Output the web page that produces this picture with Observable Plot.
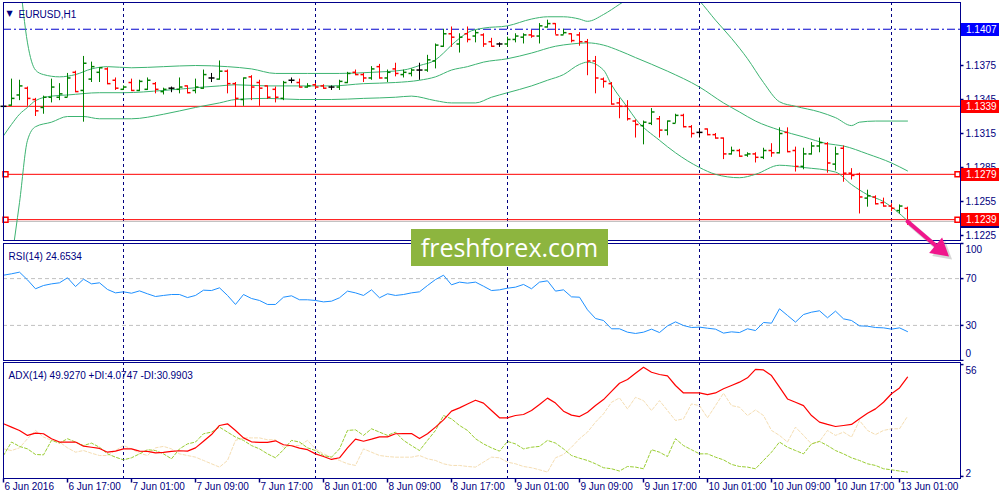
<!DOCTYPE html>
<html>
<head>
<meta charset="utf-8">
<title>EURUSD,H1</title>
<script src="https://cdn.jsdelivr.net/npm/d3@7"></script>
<script src="https://cdn.jsdelivr.net/npm/@observablehq/plot@0.6"></script>
<style>
  html, body { margin: 0; padding: 0; background: #fff; }
  #chart { position: relative; width: 1000px; height: 500px; overflow: hidden; background: #fff; }
  #chart svg { position: absolute; left: 0; }
  #logo {
    position: absolute; left: 411px; top: 229px; width: 197px; height: 37px;
    background: #8db53f; color: #fff; font: 25px "Open Sans", sans-serif;
    line-height: 37px; text-align: center; z-index: 3;
  }
</style>
</head>
<body>
<div id="chart"><div id="logo">freshforex.com</div></div>
<script>
// EURUSD H1, bar 0 = 6 Jun 2016 09:00 ... bar 113 = 13 Jun 2016 02:00
const barOpen = [
  1.1339,1.1340,1.1349,1.1355,1.1345,1.1338,1.1347,1.1347,1.1347,1.1369,
  1.1353,1.1363,1.1369,1.1372,1.1362,1.1354,1.1360,1.1353,1.1354,1.1359,
  1.1352,1.1355,1.1354,1.1357,1.1353,1.1355,1.1364,1.1363,1.1370,1.1359,
  1.1345,1.1365,1.1360,1.1357,1.1354,1.1346,1.1362,1.1360,1.1356,1.1358,
  1.1357,1.1356,1.1356,1.1360,1.1369,1.1367,1.1364,1.1374,1.1364,1.1372,
  1.1367,1.1368,1.1371,1.1371,1.1379,1.1392,1.1403,1.1394,1.1403,1.1401,
  1.1402,1.1396,1.1394,1.1394,1.1398,1.1400,1.1402,1.1401,1.1409,1.1412,
  1.1402,1.1403,1.1402,1.1396,1.1379,1.1363,1.1359,1.1342,1.1339,1.1326,
  1.1322,1.1324,1.1328,1.1318,1.1324,1.1331,1.1321,1.1316,1.1319,1.1314,
  1.1311,1.1297,1.1300,1.1296,1.1297,1.1294,1.1300,1.1298,1.1316,1.1300,
  1.1286,1.1297,1.1304,1.1306,1.1288,1.1302,1.1280,1.1279,1.1258,1.1259,
  1.1254,1.1251,1.1247,1.1249
];
const barHigh = [
  1.1344,1.1363,1.1362,1.1356,1.1346,1.1348,1.1363,1.1359,1.1368,1.1370,
  1.1383,1.1378,1.1373,1.1373,1.1364,1.1357,1.1363,1.1362,1.1364,1.1360,
  1.1355,1.1356,1.1364,1.1357,1.1363,1.1371,1.1368,1.1379,1.1371,1.1360,
  1.1364,1.1366,1.1362,1.1357,1.1356,1.1361,1.1364,1.1363,1.1359,1.1359,
  1.1358,1.1357,1.1362,1.1369,1.1371,1.1368,1.1374,1.1376,1.1371,1.1377,
  1.1371,1.1372,1.1377,1.1384,1.1394,1.1407,1.1409,1.1403,1.1409,1.1406,
  1.1403,1.1399,1.1395,1.1400,1.1403,1.1403,1.1406,1.1412,1.1415,1.1412,
  1.1407,1.1403,1.1404,1.1398,1.1383,1.1364,1.1360,1.1346,1.1344,1.1327,
  1.1326,1.1337,1.1330,1.1326,1.1332,1.1332,1.1322,1.1319,1.1319,1.1315,
  1.1311,1.1303,1.1301,1.1298,1.1298,1.1302,1.1306,1.1320,1.1320,1.1303,
  1.1302,1.1307,1.1311,1.1307,1.1303,1.1304,1.1284,1.1280,1.1265,1.1260,
  1.1258,1.1253,1.1252,1.1250
];
const barLow = [
  1.1337,1.1339,1.1344,1.1339,1.1330,1.1332,1.1342,1.1344,1.1347,1.1351,
  1.1325,1.1360,1.1360,1.1358,1.1353,1.1353,1.1352,1.1352,1.1353,1.1350,
  1.1349,1.1351,1.1350,1.1350,1.1350,1.1354,1.1360,1.1362,1.1350,1.1338,
  1.1339,1.1344,1.1339,1.1345,1.1342,1.1344,1.1359,1.1355,1.1355,1.1354,
  1.1354,1.1353,1.1353,1.1359,1.1366,1.1360,1.1362,1.1363,1.1360,1.1365,
  1.1364,1.1365,1.1362,1.1369,1.1372,1.1391,1.1391,1.1386,1.1395,1.1395,
  1.1391,1.1391,1.1391,1.1391,1.1395,1.1394,1.1399,1.1394,1.1408,1.1402,
  1.1402,1.1395,1.1392,1.1366,1.1350,1.1355,1.1340,1.1328,1.1326,1.1311,
  1.1305,1.1322,1.1311,1.1313,1.1324,1.1320,1.1311,1.1311,1.1313,1.1310,
  1.1292,1.1296,1.1294,1.1294,1.1289,1.1292,1.1294,1.1297,1.1298,1.1281,
  1.1283,1.1296,1.1298,1.1280,1.1282,1.1272,1.1274,1.1244,1.1250,1.1252,
  1.1250,1.1246,1.1244,1.1234
];
const barClose = [
  1.1339,1.1346,1.1357,1.1346,1.1335,1.1347,1.1356,1.1350,1.1364,1.1352,
  1.1377,1.1374,1.1373,1.1359,1.1355,1.1356,1.1353,1.1361,1.1362,1.1354,
  1.1354,1.1355,1.1356,1.1351,1.1356,1.1367,1.1364,1.1370,1.1359,1.1346,
  1.1364,1.1356,1.1355,1.1347,1.1347,1.1360,1.1362,1.1356,1.1357,1.1356,
  1.1355,1.1356,1.1361,1.1368,1.1367,1.1364,1.1372,1.1364,1.1369,1.1368,
  1.1369,1.1371,1.1371,1.1380,1.1393,1.1403,1.1400,1.1400,1.1398,1.1404,
  1.1394,1.1392,1.1394,1.1398,1.1401,1.1402,1.1401,1.1410,1.1412,1.1402,
  1.1404,1.1397,1.1396,1.1379,1.1364,1.1361,1.1341,1.1339,1.1328,1.1323,
  1.1325,1.1334,1.1318,1.1326,1.1331,1.1321,1.1315,1.1316,1.1314,1.1311,
  1.1297,1.1300,1.1295,1.1297,1.1294,1.1300,1.1298,1.1315,1.1299,1.1286,
  1.1297,1.1304,1.1307,1.1289,1.1297,1.1280,1.1278,1.1259,1.1260,1.1253,
  1.1251,1.1249,1.1251,1.12374
];

// Bollinger bands, read at these bars
const bbUpperBar = [2,3,4,5,7,9,11,13,16,20,24,28,31,34,38,42,46,50,52,54,55,56,57,58,60,63,66,68,70,72,73,75,77,79,81,84,86,87,89,91,93,95,97,99,102,104,106,107,109,113];
const bbUpper = [1.1454,1.1395,1.1371,1.1367,1.1365,1.1367,1.1372,1.1374,1.1373,1.1374,1.1375,1.1374,1.1372,1.1368,1.1368,1.1368,1.1369,1.1371,1.1375,1.1380,1.1386,1.1393,1.1399,1.1404,1.1408,1.1410,1.1416,1.1418,1.1418,1.1416,1.1414,1.1420,1.1429,1.1438,1.1443,1.1445,1.1439,1.1432,1.1415,1.1399,1.1381,1.1360,1.1343,1.1339,1.1334,1.1329,1.1322,1.1325,1.1326,1.1326];
const bbMiddleBar = [0,1,2,3,4,6,8,12,15,20,25,27,29,33,37,41,45,49,52,54,56,58,60,63,66,69,71,73,75,77,79,83,87,90,92,94,97,100,103,105,108,111,113];
const bbMiddle = [1.1313,1.1323,1.1332,1.1338,1.1344,1.1348,1.1349,1.1351,1.1351,1.1353,1.1356,1.1357,1.1358,1.1357,1.1357,1.1357,1.1359,1.1360,1.1362,1.1365,1.1371,1.1374,1.1378,1.1381,1.1386,1.1392,1.1394,1.1395,1.1393,1.1388,1.1382,1.1370,1.1356,1.1342,1.1334,1.1326,1.1318,1.1312,1.1306,1.1304,1.1297,1.1289,1.1282];
const bbLowerBar = [1,2,3,4,6,8,10,12,16,20,24,27,29,33,37,41,45,49,51,54,56,59,61,63,66,68,70,72,73,75,76,78,79,82,84,87,89,92,94,97,100,104,106,108,110,113];
const bbLower = [1.1203,1.1254,1.1309,1.1321,1.1325,1.1330,1.1330,1.1328,1.1328,1.1332,1.1338,1.1342,1.1345,1.1346,1.1345,1.1345,1.1346,1.1347,1.1348,1.1344,1.1342,1.1342,1.1347,1.1351,1.1357,1.1362,1.1367,1.1376,1.1378,1.1371,1.1358,1.1338,1.1328,1.1309,1.1298,1.1285,1.1279,1.1276,1.1279,1.1287,1.1285,1.1281,1.1270,1.1261,1.1255,1.1238];

const rsi14 = [
  72.9,74.1,75.5,68.9,61.3,64.1,65.5,66.4,70.7,63.2,
  69.5,65.5,66.4,60.7,57.8,58.7,57.5,59.5,57.0,54.7,
  55.6,56.4,56.4,53.8,55.6,60.1,59.8,62.1,55.6,47.9,
  56.4,53.0,51.3,47.9,47.9,54.1,55.3,51.9,51.9,51.3,
  50.1,50.7,53.6,59.3,57.8,55.6,60.4,53.6,57.0,55.6,
  56.4,57.8,58.7,64.1,69.2,72.9,64.7,67.0,66.1,67.0,
  63.5,59.8,60.4,61.8,62.7,65.0,61.3,67.0,68.1,59.3,
  60.4,54.4,54.1,43.3,35.9,34.2,27.1,27.1,24.2,23.1,
  24.2,26.8,23.9,29.6,33.0,29.9,28.2,28.5,27.6,26.8,
  23.4,24.5,23.9,27.1,25.6,32.5,31.9,44.2,38.5,32.8,
  39.3,41.3,42.5,36.5,42.2,35.6,34.2,29.6,29.3,28.2,
  27.9,26.8,27.9,24.7
];
const adx14 = [
  27.4,25.8,24.2,21.8,22.9,22.6,20.2,18.6,18.6,18.6,
  16.6,16.1,15.5,13.7,14.2,15.3,15.3,14.2,14.1,13.4,
  13.6,14.1,14.4,14.2,15.8,19.0,22.2,26.6,27.4,24.2,
  20.6,18.7,18.4,18.4,19.2,17.3,16.8,15.7,14.9,12.9,
  11.6,10.2,11.0,15.8,20.0,19.0,20.0,21.1,21.1,22.6,
  22.7,22.7,20.3,22.6,25.8,29.3,33.5,35.1,37.0,38.8,
  37.4,33.8,30.3,30.3,31.4,31.9,33.8,36.7,39.8,37.4,
  33.5,31.6,30.9,33.0,36.2,39.1,43.1,47.0,48.8,51.8,
  54.7,52.3,51.2,50.5,45.9,42.3,42.3,42.3,41.5,42.3,
  44.3,45.9,47.5,49.6,53.7,53.4,50.7,45.1,39.4,37.8,
  36.2,31.4,28.2,27.1,26.1,26.6,27.1,29.8,32.5,34.6,
  37.8,41.9,44.7,49.9
];
const plusDI = [
  12.1,18.6,16.5,15.3,12.6,12.4,19.4,18.1,20.2,18.6,
  16.9,18.1,16.1,12.9,11.3,10.0,11.0,12.9,14.9,14.5,
  12.9,10.5,15.3,17.7,18.6,22.6,23.4,25.8,23.4,21.0,
  19.4,16.9,15.3,12.9,11.0,14.9,19.4,18.6,15.8,14.5,
  12.1,11.3,15.3,24.2,24.5,21.8,25.0,23.4,21.8,23.4,
  19.4,16.9,14.5,19.4,24.2,31.4,29.8,26.6,24.2,20.2,
  17.7,15.8,14.2,18.9,17.7,15.3,16.1,16.5,19.4,18.1,
  15.3,12.1,10.8,9.7,8.1,6.2,5.7,4.6,6.8,6.5,
  5.7,14.9,13.7,11.6,20.2,16.9,14.9,12.9,12.9,11.3,
  10.0,7.8,6.8,6.5,5.7,9.7,13.7,18.6,16.1,14.5,
  12.9,17.7,18.9,16.9,14.5,12.9,11.0,9.7,8.1,7.3,
  5.7,5.2,4.6,4.1
];
const minusDI = [
  15.3,14.5,15.8,20.2,24.2,21.0,19.4,18.6,15.8,13.7,
  14.5,13.2,12.1,12.1,14.5,16.9,15.3,13.2,12.1,15.8,
  16.5,15.3,12.9,12.1,11.3,9.7,8.1,6.5,9.7,19.4,
  20.6,20.6,20.6,19.7,19.7,16.1,16.9,16.9,19.4,15.3,
  12.9,11.3,9.7,8.1,7.3,15.3,13.7,12.1,11.6,11.3,
  11.3,11.3,12.1,10.5,9.7,8.1,7.3,7.3,6.8,6.5,
  8.9,11.3,11.0,8.9,8.1,6.8,6.2,5.2,4.1,11.0,
  12.6,16.1,20.2,23.4,28.2,32.2,37.8,39.9,34.6,40.2,
  38.6,33.8,38.6,33.8,29.0,29.8,37.0,36.2,30.3,36.2,
  42.2,36.2,35.4,31.4,34.1,31.4,24.2,21.8,18.6,25.8,
  21.8,17.7,18.9,24.2,21.8,23.4,21.0,29.0,24.2,22.2,
  24.2,25.0,25.0,31.0
];

const levelLines = [1.1339, 1.1279, 1.1239];
const markedLevels = [1.1279, 1.1239];
const resistance = 1.1407;
const priceTicks = [1.1225, 1.1255, 1.1285, 1.1315, 1.1345, 1.1375, 1.1405];
const dayStartBars = [15, 39, 63, 87, 111];
const timeTickBars = [0, 8, 16, 24, 32, 40, 48, 56, 64, 72, 80, 88, 96, 104, 112];
const timeLabels = ["6 Jun 2016", "6 Jun 17:00", "7 Jun 01:00", "7 Jun 09:00", "7 Jun 17:00",
  "8 Jun 01:00", "8 Jun 09:00", "8 Jun 17:00", "9 Jun 01:00", "9 Jun 09:00", "9 Jun 17:00",
  "10 Jun 01:00", "10 Jun 09:00", "10 Jun 17:00", "13 Jun 01:00"];
const arrowEnd = {bar: 118.2, price: 1.1206};

const navy = "#000080";
const frameBlue = "#00008b";
const xDomain = [0, 119.625];
const priceDomain = [1.12206, 1.14306];
const lastBar = barClose.length - 1;
const lastClose = barClose[lastBar];

const candles = barOpen.map((o, i) => ({i, o, h: barHigh[i], l: barLow[i], c: barClose[i]}));
const barColor = d => d.c > d.o ? "#008000" : d.c < d.o ? "#ff0000" : "#000000";
const band = (bars, vals) => bars.map((i, k) => ({i, v: vals[k]}));
const series = vals => vals.map((v, i) => ({i, v}));

// little strokes for bar ticks and axis ticks
const tickLeft = {draw(ctx) { ctx.moveTo(-3, 0); ctx.lineTo(0, 0); }};
const tickRight = {draw(ctx) { ctx.moveTo(0, 0); ctx.lineTo(3, 0); }};
const tickDown = {draw(ctx) { ctx.moveTo(0, 0); ctx.lineTo(0, 4); }};

// coloured price label on the right scale
function tag(value, bg, label = value.toFixed(4)) {
  return (index, scales, values, dims) => {
    const y = Math.round(scales.y(value));
    const x = dims.width - dims.marginRight + 1;
    const g = d3.create("svg:g");
    g.append("rect").attr("x", x).attr("y", y - 6).attr("width", 38).attr("height", 13).attr("fill", bg);
    g.append("text").attr("x", x + 5).attr("y", y + 0.5).attr("dy", "0.35em")
      .attr("text-anchor", "start").attr("fill", "#fff").text(label);
    return g.node();
  };
}

const baseStyle = {background: "transparent", color: navy,
  fontFamily: "'Liberation Sans', Arial, sans-serif", fontSize: "10px"};

function pane(top, opts) {
  const svg = Plot.plot({
    width: 1000,
    marginLeft: 3,
    marginRight: 40,
    x: {domain: xDomain, axis: null},
    color: {type: "identity"},
    style: baseStyle,
    ...opts
  });
  svg.style.top = top + "px";
  return svg;
}

const dayGrid = () => Plot.ruleX(dayStartBars, {x: d => d, stroke: navy, strokeDasharray: "3,3"});
const rightTicks = vals => Plot.dot(vals, {y: d => d, frameAnchor: "right", symbol: tickRight, stroke: navy, fill: "none"});
const rightLabels = (vals, dy = 0, fmt = d => String(d)) =>
  Plot.text(vals, {y: d => d, text: fmt, frameAnchor: "right", textAnchor: "start", dx: 5, dy, fill: navy});

const pricePane = pane(0, {
  height: 241, marginTop: 2, marginBottom: 1,
  y: {domain: priceDomain, axis: null},
  marks: [
    dayGrid(),
    Plot.ruleY([resistance], {y: d => d, stroke: "#0000cd", strokeDasharray: "8,3,2,3"}),
    Plot.ruleY([lastClose], {y: d => d, stroke: "#c0c0c0"}),
    Plot.ruleY(levelLines, {y: d => d, stroke: "#ff0000"}),
    Plot.line(band(bbUpperBar, bbUpper), {x: "i", y: "v", stroke: "#3cb371", strokeWidth: 1, curve: "monotone-x", clip: true}),
    Plot.line(band(bbMiddleBar, bbMiddle), {x: "i", y: "v", stroke: "#3cb371", strokeWidth: 1, curve: "monotone-x", clip: true}),
    Plot.line(band(bbLowerBar, bbLower), {x: "i", y: "v", stroke: "#3cb371", strokeWidth: 1, curve: "monotone-x", clip: true}),
    Plot.ruleX(candles, {x: "i", y1: "l", y2: "h", stroke: barColor}),
    Plot.dot(candles, {x: "i", y: "o", symbol: tickLeft, stroke: barColor, fill: "none"}),
    Plot.dot(candles, {x: "i", y: "c", symbol: tickRight, stroke: barColor, fill: "none"}),
    Plot.dot(markedLevels, {y: d => d, frameAnchor: "left", dx: 2, symbol: "square", r: 2.8, stroke: "#ff0000", fill: "#fff"}),
    Plot.dot(markedLevels, {y: d => d, frameAnchor: "right", dx: -3, symbol: "square", r: 2.8, stroke: "#ff0000", fill: "#fff"}),
    Plot.frame({stroke: frameBlue}),
    rightTicks(priceTicks),
    rightLabels(priceTicks, 0, d => d.toFixed(4)),
    tag(resistance, "#0000ff"),
    tag(1.1339, "#ff0000"),
    tag(1.1279, "#ff0000"),
    tag(lastClose, "#000080"),
    tag(1.1239, "#ff0000"),
    Plot.text(["\u25BC"], {text: d => d, frameAnchor: "top-left", dx: 6, dy: 8, textAnchor: "middle", fontSize: 8, fontFamily: "DejaVu Sans", fill: navy}),
    Plot.text(["EURUSD,H1"], {text: d => d, frameAnchor: "top-left", dx: 15, dy: 8, textAnchor: "start", fill: navy})
  ]
});

const rsiPane = pane(242, {
  height: 119, marginTop: 1, marginBottom: 1,
  y: {domain: [0, 100], axis: null},
  marks: [
    dayGrid(),
    Plot.ruleY([70, 30], {y: d => d, stroke: "#c0c0c0", strokeDasharray: "4,3"}),
    Plot.line(series(rsi14), {x: "i", y: "v", stroke: "#1e90ff", strokeWidth: 1}),
    Plot.frame({stroke: frameBlue}),
    rightTicks([100, 70, 30, 0]),
    rightLabels([100], 6),
    rightLabels([70, 30]),
    rightLabels([0], -7),
    Plot.text(["RSI(14) 24.6534"], {text: d => d, frameAnchor: "top-left", dx: 5, dy: 9, textAnchor: "start", fill: navy})
  ]
});

const adxPane = pane(361, {
  height: 139, marginTop: 1, marginBottom: 22,
  y: {domain: [1, 57], axis: null},
  marks: [
    dayGrid(),
    Plot.line(series(minusDI), {x: "i", y: "v", stroke: "#f5deb3", strokeWidth: 1, strokeDasharray: "3,2"}),
    Plot.line(series(plusDI), {x: "i", y: "v", stroke: "#9acd32", strokeWidth: 1, strokeDasharray: "3,2"}),
    Plot.line(series(adx14), {x: "i", y: "v", stroke: "#ff0000", strokeWidth: 1.2}),
    Plot.frame({stroke: frameBlue}),
    rightTicks([56, 2]),
    rightLabels([56], 6),
    rightLabels([2], -3),
    Plot.dot(timeTickBars, {x: d => d, frameAnchor: "bottom", symbol: tickDown, stroke: navy, fill: "none"}),
    Plot.text(timeTickBars, {x: d => d, text: (d, k) => timeLabels[k], frameAnchor: "bottom", dy: 11, dx: 1, textAnchor: "start", fill: navy}),
    Plot.text(["ADX(14) 49.9270 +DI:4.0747 -DI:30.9903"], {text: d => d, frameAnchor: "top-left", dx: 5, dy: 9, textAnchor: "start", fill: navy})
  ]
});

// pointer arrow from the last bar, drawn over the pane border
const arrowData = [{b0: lastBar, p0: lastClose, b1: arrowEnd.bar, p1: arrowEnd.price}];
const arrowPink = "#f0168c";
const overlay = Plot.plot({
  width: 1000, height: 500,
  marginLeft: 3, marginRight: 40, marginTop: 2, marginBottom: 260,
  x: {domain: xDomain, axis: null},
  y: {domain: priceDomain, axis: null},
  style: {...baseStyle, overflow: "visible", pointerEvents: "none"},
  marks: [
    // soft shadow
    Plot.arrow(arrowData, {x1: "b0", y1: "p0", x2: "b1", y2: "p1", stroke: "#777", strokeOpacity: 0.3, strokeWidth: 5, headLength: 0, insetEnd: 12, dx: 3, dy: 3}),
    Plot.dot(arrowData, {x: "b1", y: "p1", symbol: "triangle", r: 7.5, rotate: 130, fill: "#777", fillOpacity: 0.3, stroke: "none", dx: -6, dy: -5}),
    // arrow
    Plot.arrow(arrowData, {x1: "b0", y1: "p0", x2: "b1", y2: "p1", stroke: arrowPink, strokeWidth: 4, headLength: 0, insetEnd: 12}),
    Plot.dot(arrowData, {x: "b1", y: "p1", symbol: "triangle", r: 7.5, rotate: 130, fill: arrowPink, stroke: "none", dx: -9, dy: -8})
  ]
});
overlay.style.top = "0px";
overlay.style.zIndex = 2;

const chart = document.getElementById("chart");
[pricePane, rsiPane, adxPane, overlay].forEach(svg => chart.append(svg));
</script>
</body>
</html>
